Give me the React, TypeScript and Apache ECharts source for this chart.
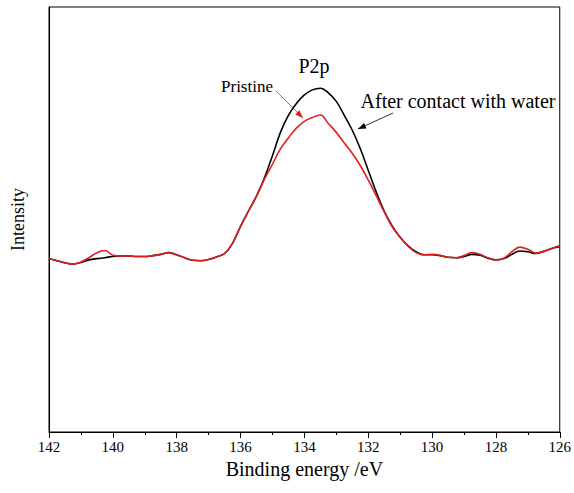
import React, { useEffect, useRef } from "react";
import * as echarts from "echarts";

const energies = [
  142.0, 141.75, 141.5, 141.25, 141.0, 140.75, 140.5, 140.25, 140.0, 139.75,
  139.5, 139.25, 139.0, 138.75, 138.5, 138.25, 138.0, 137.75, 137.5, 137.25,
  137.0, 136.75, 136.5, 136.25, 136.0, 135.75, 135.5, 135.25, 135.0, 134.75,
  134.5, 134.25, 134.0, 133.75, 133.5, 133.25, 133.0, 132.75, 132.5, 132.25,
  132.0, 131.75, 131.5, 131.25, 131.0, 130.75, 130.5, 130.25, 130.0, 129.75,
  129.5, 129.25, 129.0, 128.75, 128.5, 128.25, 128.0, 127.75, 127.5, 127.25,
  127.0, 126.75, 126.5, 126.25, 126.0,
];

const afterWater = [
  40.8, 40.3, 39.8, 39.5, 39.9, 40.5, 40.8, 41.0, 41.3, 41.4,
  41.4, 41.3, 41.3, 41.5, 41.8, 42.2, 41.7, 41.0, 40.4, 40.3,
  40.6, 41.2, 42.0, 44.4, 48.4, 52.0, 55.5, 59.8, 65.0, 70.5,
  74.5, 77.3, 79.3, 80.5, 80.9, 79.8, 77.8, 74.5, 71.0, 66.7,
  61.6, 56.5, 52.0, 48.5, 45.8, 43.8, 42.4, 41.7, 41.7, 41.5,
  41.1, 41.0, 41.3, 41.8, 41.6, 40.9, 40.5, 40.8, 41.8, 42.6,
  42.4, 42.0, 42.5, 43.2, 43.6,
];

const pristine = [
  40.8, 40.3, 39.8, 39.5, 40.0, 41.0, 42.2, 42.7, 41.6, 41.4,
  41.4, 41.3, 41.3, 41.5, 41.8, 42.2, 41.7, 41.0, 40.4, 40.3,
  40.6, 41.2, 42.0, 44.4, 48.4, 52.0, 55.5, 59.5, 63.0, 66.6,
  69.2, 71.5, 73.1, 74.0, 74.6, 72.6, 70.5, 68.0, 65.6, 62.7,
  59.3, 55.6, 51.8, 48.3, 45.8, 43.7, 42.2, 41.7, 41.8, 41.6,
  41.1, 41.0, 41.5, 42.2, 41.8, 41.0, 40.5, 40.9, 42.4, 43.5,
  43.0, 42.1, 42.5, 43.2, 43.8,
];

const xMin = 126;
const xMax = 142;
const xInterval = 2;

const FONT = "Liberation Serif, Times New Roman, serif";

function arrowHead(x1: number, y1: number, x2: number, y2: number, len: number, half: number) {
  const dx = x2 - x1;
  const dy = y2 - y1;
  const d = Math.sqrt(dx * dx + dy * dy);
  const ux = dx / d;
  const uy = dy / d;
  const bx = x2 - ux * len;
  const by = y2 - uy * len;
  return [
    [x2, y2],
    [bx - uy * half, by + ux * half],
    [bx + uy * half, by - ux * half],
  ];
}

export default function App() {
  const ref = useRef<HTMLDivElement>(null);

  useEffect(() => {
    document.body.style.margin = "0";
    if (!ref.current) return;
    const chart = echarts.init(ref.current, null, { renderer: "svg" });

    const blackData = energies.map((e, i) => [e, afterWater[i]]);
    const redData = energies.map((e, i) => [e, pristine[i]]);

    const redArrow = { x1: 276, y1: 91, x2: 303, y2: 118 };
    const blackArrow = { x1: 393, y1: 113, x2: 358, y2: 129 };

    chart.setOption({
      animation: false,
      backgroundColor: "#ffffff",
      textStyle: { fontFamily: FONT },
      grid: {
        left: 49,
        right: 13,
        top: 7,
        bottom: 61,
        show: true,
        borderColor: "#000",
        borderWidth: 1,
      },
      xAxis: {
        type: "value",
        min: xMin,
        max: xMax,
        interval: xInterval,
        inverse: true,
        name: "Binding energy /eV",
        nameLocation: "middle",
        nameGap: 27,
        nameTextStyle: { fontFamily: FONT, fontSize: 20, color: "#000" },
        axisLine: { show: true, onZero: false, lineStyle: { color: "#000", width: 1 } },
        axisTick: { show: true, inside: false, length: 6, lineStyle: { color: "#000" } },
        minorTick: { show: true, splitNumber: 2, length: 3, lineStyle: { color: "#000" } },
        axisLabel: { fontFamily: FONT, fontSize: 15, color: "#000", margin: 7 },
        splitLine: { show: false },
      },
      yAxis: {
        type: "value",
        min: 0,
        max: 100,
        name: "Intensity",
        nameLocation: "middle",
        nameGap: 22,
        nameTextStyle: { fontFamily: FONT, fontSize: 18, color: "#000" },
        axisLine: { show: true, lineStyle: { color: "#000", width: 1 } },
        axisTick: { show: false },
        axisLabel: { show: false },
        splitLine: { show: false },
      },
      series: [
        {
          name: "After contact with water",
          type: "line",
          data: blackData,
          smooth: 0.4,
          showSymbol: false,
          lineStyle: { color: "#000", width: 1.6 },
          z: 2,
        },
        {
          name: "Pristine",
          type: "line",
          data: redData,
          smooth: 0.4,
          showSymbol: false,
          lineStyle: { color: "#e01e1e", width: 1.6 },
          z: 3,
        },
      ],
      graphic: [
        {
          type: "text",
          x: 314,
          y: 66,
          style: {
            text: "P2p",
            fontFamily: FONT,
            fontSize: 20,
            fill: "#000",
            align: "center",
            verticalAlign: "middle",
          },
        },
        {
          type: "text",
          x: 247,
          y: 86,
          style: {
            text: "Pristine",
            fontFamily: FONT,
            fontSize: 17,
            fill: "#000",
            align: "center",
            verticalAlign: "middle",
          },
        },
        {
          type: "text",
          x: 458,
          y: 101,
          style: {
            text: "After contact with water",
            fontFamily: FONT,
            fontSize: 20,
            fill: "#000",
            align: "center",
            verticalAlign: "middle",
          },
        },
        {
          type: "line",
          shape: { x1: redArrow.x1, y1: redArrow.y1, x2: redArrow.x2, y2: redArrow.y2 },
          style: { stroke: "#e01e1e", lineWidth: 0.8 },
        },
        {
          type: "polygon",
          shape: { points: arrowHead(redArrow.x1, redArrow.y1, redArrow.x2, redArrow.y2, 8, 3) },
          style: { fill: "#e01e1e" },
        },
        {
          type: "line",
          shape: { x1: blackArrow.x1, y1: blackArrow.y1, x2: blackArrow.x2, y2: blackArrow.y2 },
          style: { stroke: "#000", lineWidth: 0.8 },
        },
        {
          type: "polygon",
          shape: { points: arrowHead(blackArrow.x1, blackArrow.y1, blackArrow.x2, blackArrow.y2, 8, 3) },
          style: { fill: "#000" },
        },
      ],
    });

    return () => {
      chart.dispose();
    };
  }, []);

  return <div ref={ref} style={{ width: 574, height: 493 }} />;
}
